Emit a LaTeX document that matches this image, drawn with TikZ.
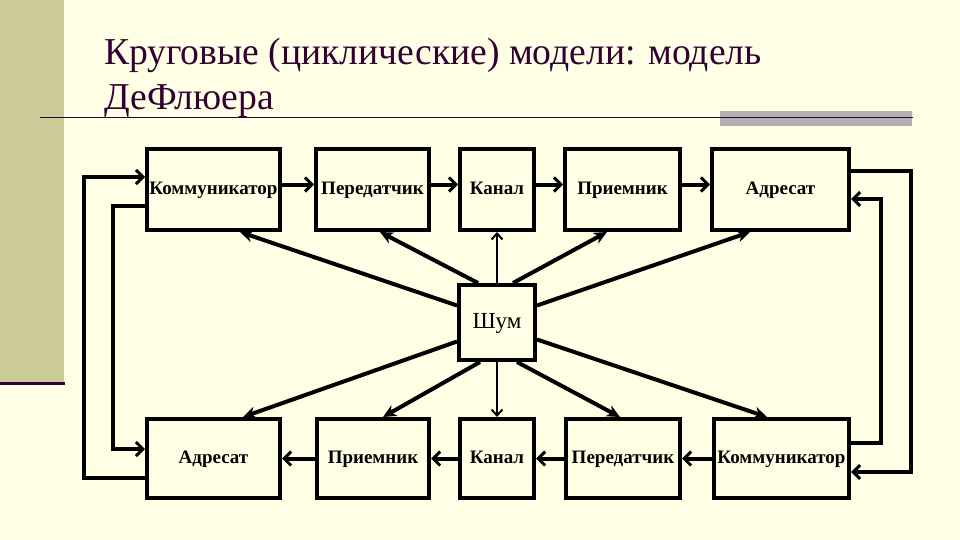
\documentclass[tikz,border=0pt]{standalone}
\usepackage{fontspec}
\setmainfont{Liberation Serif}
\usetikzlibrary{arrows.meta}
\definecolor{bgcol}{HTML}{FFFFE5}
\definecolor{stripcol}{HTML}{CCCC99}
\definecolor{titlecol}{HTML}{330033}
\definecolor{graycol}{HTML}{B2B2B2}
\tikzset{
  box/.style={draw=black, line width=4pt, inner sep=0pt, text height=13pt, text depth=4pt, font=\bfseries\fontsize{19}{19}\selectfont},
  toprow/.style={box, minimum height=81pt},
  botrow/.style={box, minimum height=79pt},
  bigarr/.style={line width=4pt, -{Stealth[length=13pt,width=12pt,inset=4pt]}},
  fbarr/.style={line width=4pt, -{Straight Barb[length=7pt,width=14pt,line width=3pt]}},
  thinarr/.style={line width=2pt, -{Straight Barb[length=6pt,width=11pt,line width=2pt]}},
  titletext/.style={text=titlecol, inner sep=0pt, anchor=base west, font=\fontsize{38}{38}\selectfont, xscale=0.99}
}
\begin{document}
\begin{tikzpicture}[x=1pt,y=-1pt]
\fill[bgcol] (0,0) rectangle (960,540);
\useasboundingbox (0,0) rectangle (960,540);
% left strip
\fill[stripcol] (0,0) rectangle (64,382);
\fill[titlecol] (0,382) rectangle (65,385);
% title
\node[titletext] (t1) at (104,65) {Круговые (циклические) модели: модель};
\node[titletext] (t2) at (104,110) {ДеФлюера};
\fill[graycol] (720,111) rectangle (912,126);
\draw[titlecol, line width=1.6pt] (40,117.5) -- (913,117.5);
% top row
\node[toprow, minimum width=133pt] (K1) at (213.5,189.5) {Коммуникатор};
\node[toprow, minimum width=113pt] (P1) at (372.5,189.5) {Передатчик};
\node[toprow, minimum width=74pt] (C1) at (497,189.5) {Канал};
\node[toprow, minimum width=115pt] (R1) at (622.5,189.5) {Приемник};
\node[toprow, minimum width=137pt] (A1) at (780.5,189.5) {Адресат};
% bottom row
\node[botrow, minimum width=133pt] (A2) at (213.5,458.5) {Адресат};
\node[botrow, minimum width=112pt] (R2) at (373,458.5) {Приемник};
\node[botrow, minimum width=74pt] (C2) at (497,458.5) {Канал};
\node[botrow, minimum width=114pt] (P2) at (623,458.5) {Передатчик};
\node[botrow, minimum width=135pt] (K2) at (781.5,458.5) {Коммуникатор};
% noise
\node[box, minimum width=76pt, minimum height=75pt, text height=16pt, text depth=5pt, font=\fontsize{23}{23}\selectfont] (S) at (497,322.5) {Шум};
% top chain
\draw[fbarr] ([yshift=5pt]K1.east) -- ([yshift=5pt]P1.west);
\draw[fbarr] ([yshift=5pt]P1.east) -- ([yshift=5pt]C1.west);
\draw[fbarr] ([yshift=5pt]C1.east) -- ([yshift=5pt]R1.west);
\draw[fbarr] ([yshift=5pt]R1.east) -- ([yshift=5pt]A1.west);
% bottom chain
\draw[fbarr] (K2.west) -- (P2.east);
\draw[fbarr] (P2.west) -- (C2.east);
\draw[fbarr] (C2.west) -- (R2.east);
\draw[fbarr] (R2.west) -- (A2.east);
% feedback left
\draw[fbarr] ([yshift=-19.5pt]A2.west) -- ++(-61,0) |- ([yshift=12.5pt]K1.west);
\draw[fbarr] ([yshift=-16.5pt]K1.west) -- ++(-32,0) |- ([yshift=9.5pt]A2.west);
% feedback right
\draw[fbarr] ([yshift=18.5pt]A1.east) -- ++(60,0) |- ([yshift=-13.5pt]K2.east);
\draw[fbarr] ([yshift=15.5pt]K2.east) -- ++(30,0) |- ([yshift=-9.5pt]A1.east);
% noise arrows
\draw[bigarr] ([yshift=17pt]S.west) -- ([xshift=26.5pt]K1.south);
\draw[bigarr] ([xshift=-19pt]S.north) -- ([xshift=7.5pt]P1.south);
\draw[thinarr] (S.north) -- (C1.south);
\draw[bigarr] ([xshift=16pt]S.north) -- ([xshift=-15.5pt]R1.south);
\draw[bigarr] ([yshift=17pt]S.east) -- ([xshift=-30.5pt]A1.south);
\draw[bigarr] ([yshift=-19pt]S.west) -- ([xshift=29.5pt]A2.north);
\draw[bigarr] ([xshift=-17pt]S.south) -- ([xshift=10pt]R2.north);
\draw[thinarr] (S.south) -- (C2.north);
\draw[bigarr] ([xshift=20pt]S.south) -- ([xshift=-3pt]P2.north);
\draw[bigarr] ([yshift=-17pt]S.east) -- ([xshift=-14.5pt]K2.north);
\end{tikzpicture}
\end{document}
